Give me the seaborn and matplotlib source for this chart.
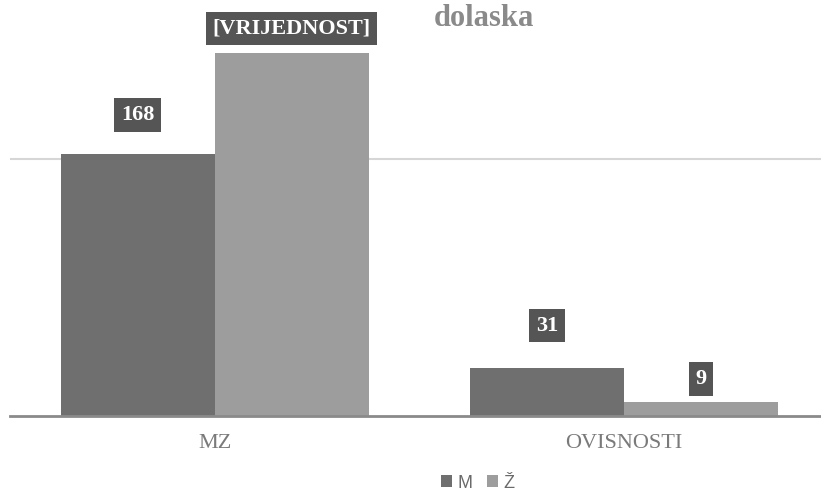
import matplotlib
matplotlib.use("Agg")
import matplotlib.pyplot as plt
import seaborn as sns
import pandas as pd

categories = ["MZ", "OVISNOSTI"]
series = ["M", "Ž"]
values_m = [168, 31]
values_z = [233, 9]
labels_m = ["168", "31"]
labels_z = ["[VRIJEDNOST]", "9"]

df = pd.DataFrame({
    "kategorija": categories * 2,
    "spol": [series[0]] * 2 + [series[1]] * 2,
    "vrijednost": values_m + values_z,
})
label_text = labels_m + labels_z
label_offsets = [39, 42, 24, 23]  # px above bar top

sns.set_theme(style="white")
plt.rcParams["font.family"] = ["Liberation Serif", "DejaVu Serif"]

fig = plt.figure(figsize=(8.21, 4.96), dpi=100)
ax = fig.add_axes([10 / 821, 80 / 496, 811 / 821, 416 / 496])

palette = {"M": "#6f6f6f", "Ž": "#9d9d9d"}
sns.barplot(data=df, x="kategorija", y="vrijednost", hue="spol",
            order=categories, hue_order=series, palette=palette,
            width=0.753, gap=0, saturation=1, ax=ax, legend=True,
            linewidth=0)

ax.set_xlim(-0.5, 1.4817)
ax.set_ylim(0, 266.7)
ax.set_yticks([165])
ax.set_yticklabels([])
ax.yaxis.grid(True, color="#d6d6d6", linewidth=1.5)
ax.set_axisbelow(True)
ax.tick_params(axis="both", length=0)
for side in ["left", "right", "top"]:
    ax.spines[side].set_visible(False)
ax.spines["bottom"].set_color("#8a8a8a")
ax.spines["bottom"].set_linewidth(2)
ax.set_xlabel("")
ax.set_ylabel("")
for t in ax.get_xticklabels():
    t.set_fontsize(16)
    t.set_color("#7a7a7a")
ax.tick_params(axis="x", pad=13)

# value labels
bars = [p for c in ax.containers for p in c]
for bar, txt, off in zip(bars, label_text, label_offsets):
    x = bar.get_x() + bar.get_width() / 2
    y = bar.get_height()
    ax.annotate(txt, (x, y), xytext=(0, off * 0.72), textcoords="offset points",
                ha="center", va="center", fontsize=16, fontweight="bold",
                color="white",
                bbox=dict(boxstyle="square,pad=0.3", fc="#555555", ec="none"))

# legend
leg = ax.get_legend()
handles = leg.legend_handles
leg.remove()
lg = fig.legend(handles, series, loc="center", bbox_to_anchor=(478 / 821, 1 - 483 / 496),
                ncol=2, frameon=False, handlelength=0.6, handleheight=0.6,
                handletextpad=0.3, columnspacing=0.8,
                prop={"family": "Liberation Sans", "size": 13})
for t in lg.get_texts():
    t.set_color("#6a6a6a")

fig.text(484 / 821, 1 - 18 / 496, "dolaska", ha="center", va="center",
         fontsize=22, fontweight="bold", color="#8a8a8a")

fig.savefig("out.png", dpi=100)
